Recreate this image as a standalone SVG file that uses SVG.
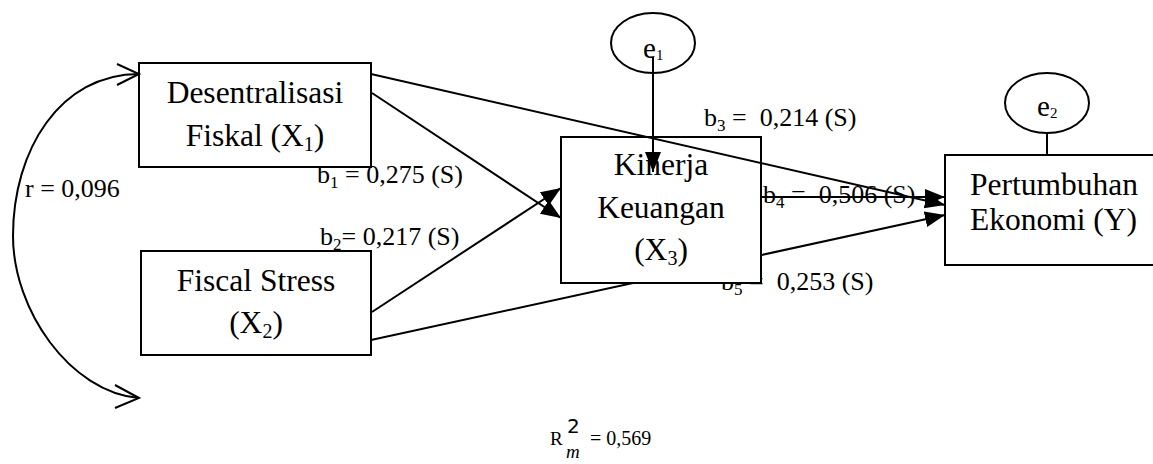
<svg xmlns="http://www.w3.org/2000/svg" width="1153" height="464" viewBox="0 0 1153 464">
<style>
.box{fill:#fff;stroke:#000;stroke-width:2}
.ln{fill:none;stroke:#000;stroke-width:2}
.t{font-family:"Liberation Serif","Times New Roman",serif;fill:#000}
.big{font-size:31.5px}
.lab{font-size:26px}
</style>
<defs>
<marker id="ah" markerUnits="userSpaceOnUse" markerWidth="24" markerHeight="18" refX="20" refY="8" orient="auto">
<path d="M0,0 L20,8 L0,16 z" fill="#000"/>
</marker>
</defs>
<g id="labels">
<text class="t lab" x="25" y="197">r = 0,096</text>
<text class="t lab" x="317" y="183" xml:space="preserve">b<tspan font-size="17" dy="5">1</tspan><tspan dy="-5"> = 0,275 (S)</tspan></text>
<text class="t lab" x="320" y="245" xml:space="preserve">b<tspan font-size="17" dy="5">2</tspan><tspan dy="-5">= 0,217 (S)</tspan></text>
<text class="t lab" x="704" y="126" xml:space="preserve">b<tspan font-size="17" dy="5">3</tspan><tspan dy="-5"> =  0,214 (S)</tspan></text>
<text class="t lab" x="763" y="203" xml:space="preserve">b<tspan font-size="17" dy="5">4</tspan><tspan dy="-5"> =  0,506 (S)</tspan></text>
<text class="t lab" x="721" y="290" xml:space="preserve">b<tspan font-size="17" dy="5">5</tspan><tspan dy="-5"> =  0,253 (S)</tspan></text>
<text class="t" font-size="19" x="550" y="445">R</text>
<text font-family="'DejaVu Sans',sans-serif" font-size="20" x="567" y="433">2</text>
<text class="t" font-size="19" font-style="italic" x="566" y="458">m</text>
<text class="t" font-size="20" x="590" y="445">= 0,569</text>
</g>
<g id="connectors-under">
<line class="ln" x1="371" y1="340" x2="945" y2="215" marker-end="url(#ah)"/>
</g>
<g id="X1">
<rect class="box" x="139" y="63" width="232" height="104"/>
<text class="t big" x="255" y="103" text-anchor="middle">Desentralisasi</text>
<text class="t big" x="255" y="146" text-anchor="middle">Fiskal (X<tspan font-size="20" dy="5">1</tspan><tspan dy="-5">)</tspan></text>
</g>
<g id="X2">
<rect class="box" x="141" y="251" width="230" height="104"/>
<text class="t big" x="256" y="291" text-anchor="middle">Fiscal Stress</text>
<text class="t big" x="256" y="333" text-anchor="middle">(X<tspan font-size="20" dy="5">2</tspan><tspan dy="-5">)</tspan></text>
</g>
<g id="X3">
<rect class="box" x="561" y="137" width="200" height="146"/>
<text class="t big" x="661" y="175" text-anchor="middle">Kinerja</text>
<text class="t big" x="661" y="218" text-anchor="middle">Keuangan</text>
<text class="t big" x="661" y="260" text-anchor="middle">(X<tspan font-size="20" dy="5">3</tspan><tspan dy="-5">)</tspan></text>
</g>
<g id="Y">
<rect class="box" x="945" y="155" width="220" height="110"/>
<text class="t big" x="970" y="195">Pertumbuhan</text>
<text class="t big" x="970" y="230">Ekonomi (Y)</text>
</g>
<g id="e1">
<ellipse class="ln" cx="653" cy="43" rx="42" ry="30"/>
<text class="t" font-size="29" x="643" y="58">e<tspan font-size="15" dy="2">1</tspan></text>
</g>
<g id="e2">
<ellipse class="ln" cx="1047" cy="103" rx="42" ry="30"/>
<text class="t" font-size="29" x="1037" y="116">e<tspan font-size="15" dy="2">2</tspan></text>
</g>
<g id="connectors">
<line class="ln" x1="371" y1="74" x2="945" y2="205" marker-end="url(#ah)"/>
<line class="ln" x1="761" y1="197" x2="945" y2="197" marker-end="url(#ah)"/>
<line class="ln" x1="372" y1="93" x2="561" y2="218" marker-end="url(#ah)"/>
<line class="ln" x1="372" y1="312" x2="561" y2="188" marker-end="url(#ah)"/>
<line class="ln" x1="653" y1="57" x2="653" y2="172" marker-end="url(#ah)"/>
<line class="ln" x1="1047" y1="133" x2="1047" y2="155"/>
<path class="ln" d="M139,74 C60,74 13,150 13,236 C13,310 70,392 139,398"/>
<polyline class="ln" points="117,64 139,74 117,85"/>
<polyline class="ln" points="115,385 139,398 115,408"/>
</g>
</svg>
